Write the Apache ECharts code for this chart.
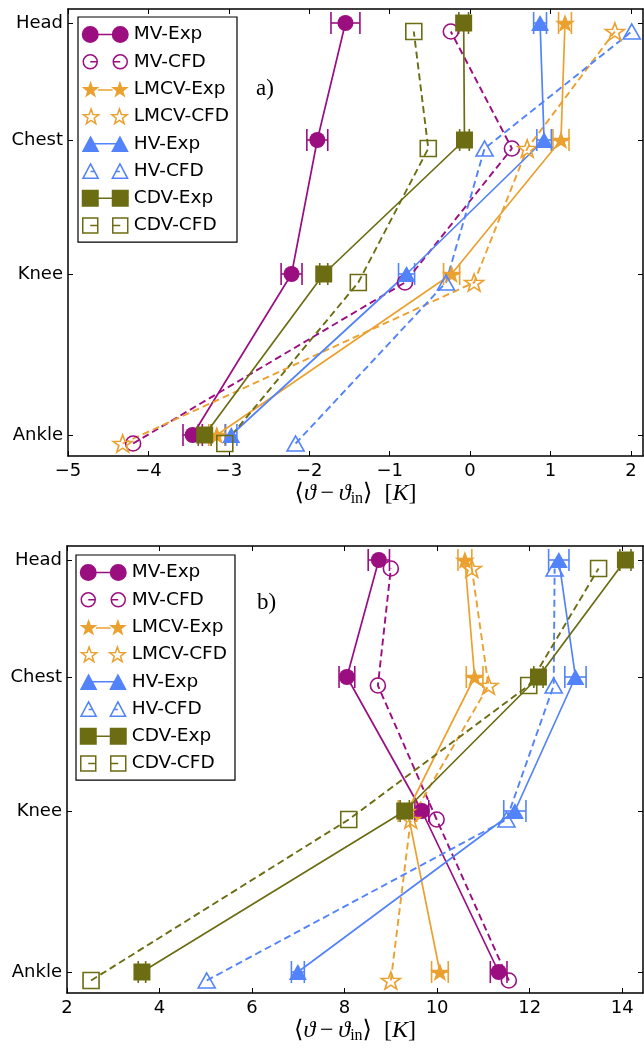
<!DOCTYPE html>
<html><head><meta charset="utf-8">
<script src="https://cdn.jsdelivr.net/npm/echarts@6/dist/echarts.min.js"></script>
<style>html,body{margin:0;padding:0;background:#fff}#c{width:644px;height:1049px}</style>
</head><body><div id="c"></div>
<script>
// ---------------- data ----------------
const levels = ['Ankle', 'Knee', 'Chest', 'Head'];
const expPos = [0, 1.61, 2.95, 4.12];          // measurement heights (plot units)
const cfdPos = [-0.085, 1.525, 2.865, 4.035];  // CFD probe heights (plot units)
const seriesNames = ['MV-Exp', 'MV-CFD', 'LMCV-Exp', 'LMCV-CFD', 'HV-Exp', 'HV-CFD', 'CDV-Exp', 'CDV-CFD'];
const xTicksA = [-5, -4, -3, -2, -1, 0, 1, 2];
const xTicksB = [2, 4, 6, 8, 10, 12, 14];

// panel a  (order: Ankle, Knee, Chest, Head)
const aMVExp = [-3.45, -2.22, -1.90, -1.55];
const aMVExpErr = [0.12, 0.13, 0.13, 0.18];
const aMVCFD = [-4.19, -0.81, 0.52, -0.24];
const aLMCVExp = [-3.15, -0.23, 1.13, 1.18];
const aLMCVExpErr = [0.10, 0.10, 0.10, 0.08];
const aLMCVCFD = [-4.32, 0.05, 0.71, 1.80];
const aHVExp = [-2.97, -0.79, 0.92, 0.87];
const aHVExpErr = [0.07, 0.10, 0.09, 0.08];
const aHVCFD = [-2.17, -0.30, 0.18, 2.01];
const aCDVExp = [-3.30, -1.82, -0.07, -0.08];
const aCDVExpErr = [0.08, 0.05, 0.06, 0.06];
const aCDVCFD = [-3.05, -1.39, -0.52, -0.70];

// panel b
const bMVExp = [11.33, 9.67, 8.05, 8.74];
const bMVExpErr = [0.18, 0.15, 0.17, 0.23];
const bMVCFD = [11.55, 9.99, 8.72, 9.00];
const bLMCVExp = [10.06, 9.36, 10.81, 10.60];
const bLMCVExpErr = [0.18, 0.20, 0.18, 0.15];
const bLMCVCFD = [9.00, 9.43, 11.11, 10.75];
const bHVExp = [6.99, 11.68, 12.99, 12.63];
const bHVExpErr = [0.14, 0.24, 0.23, 0.22];
const bHVCFD = [5.02, 11.50, 12.52, 12.54];
const bCDVExp = [3.62, 9.30, 12.19, 14.07];
const bCDVExpErr = [0.08, 0.10, 0.10, 0.12];
const bCDVCFD = [2.52, 8.09, 11.98, 13.49];

// ---------------- style ----------------
const colors = ['#9b0e80', '#eba130', '#5283fb', '#6c6c12'];
function starPts(cx, cy, R, r) {
  let s = '';
  for (let k = 0; k < 10; k++) {
    const ang = -Math.PI / 2 + k * Math.PI / 5;
    const rad = k % 2 ? r : R;
    s += (k ? 'L' : 'M') + (cx + rad * Math.cos(ang)).toFixed(2) + ',' + (cy + rad * Math.sin(ang)).toFixed(2) + ' ';
  }
  return s + 'Z ';
}
const starSym = 'path://' + starPts(10, 10, 10, 4);
const symbols = ['circle', starSym, 'triangle', 'rect'];
const symSizes = [16, [20, 19], [18, 16], 17];
const hollowSizes = [15, [19, 18], [17, 15], 16];

const legendIcons = [
  'path://M0,8.5 A8.5,8.5 0 1,1 17,8.5 A8.5,8.5 0 1,1 0,8.5 Z M30,8.5 A8.5,8.5 0 1,1 47,8.5 A8.5,8.5 0 1,1 30,8.5 Z M16,7.7 L31,7.7 L31,9.3 L16,9.3 Z',
  'path://M0,0 M47,17 M1.5,8.5 A7,7 0 1,1 15.5,8.5 A7,7 0 1,1 1.5,8.5 Z M31.5,8.5 A7,7 0 1,1 45.5,8.5 A7,7 0 1,1 31.5,8.5 Z M8.5,8.5 L15.5,8.5 M31.5,8.5 L38.5,8.5',
  'path://' + starPts(9.5, 9.5, 9.5, 3.8) + starPts(39.5, 9.5, 9.5, 3.8) + 'M17,8.7 L32,8.7 L32,10.3 L17,10.3 Z',
  'path://M0,0 M49,18 ' + starPts(9.5, 9.8, 8.6, 3.5) + starPts(39.5, 9.8, 8.6, 3.5),
  'path://M0,17 L9,0 L18,17 Z M30,17 L39,0 L48,17 Z M12,7.7 L36,7.7 L36,9.3 L12,9.3 Z',
  'path://M0,0 M48,17 M1.2,16 L9,1.2 L16.8,16 Z M31.2,16 L39,1.2 L46.8,16 Z M9,9 L13,9 M35,9 L39,9',
  'path://M0,0 L17,0 L17,17 L0,17 Z M30,0 L47,0 L47,17 L30,17 Z M16,7.7 L31,7.7 L31,9.3 L16,9.3 Z',
  'path://M0,0 M47,17 M1,1 L16,1 L16,16 L1,16 Z M31,1 L46,1 L46,16 L31,16 Z M8.5,8.5 L16,8.5 M31,8.5 L38.5,8.5'
];

const tickFont = { color: '#000', fontSize: 18, fontFamily: 'DejaVu Sans' };
const minus = v => String(v).replace('-', '\u2212');
function levelLabel(v) {
  let best = 0;
  for (let i = 0; i < expPos.length; i++) if (Math.abs(expPos[i] - v) < Math.abs(expPos[best] - v)) best = i;
  return levels[best];
}
const serif = "'Liberation Serif','DejaVu Serif',serif";
const axisName = '{u|\u27E8}{i|\u03D1}{u|\u2009\u2212\u2009}{i|\u03D1}{s|in}{u|\u27E9\u2002[}{i|K}{u|]}';
const axisNameStyle = {
  rich: {
    u: { fontFamily: serif, fontSize: 24, color: '#000', lineHeight: 26 },
    i: { fontFamily: serif, fontSize: 24, fontStyle: 'italic', color: '#000', lineHeight: 26 },
    s: { fontFamily: serif, fontSize: 16, color: '#000', verticalAlign: 'bottom', lineHeight: 16 }
  }
};

const grids = [
  { left: 68, top: 9, width: 575, height: 447 },
  { left: 67, top: 546, width: 576, height: 447 }
];
const xRanges = [[-5, 2.15, 1, xTicksA], [2, 14.45, 2, xTicksB]];

const xAxes = [], yAxes = [];
grids.forEach((g, gi) => {
  const [mn, mx, iv, tv] = xRanges[gi];
  const lineSt = { show: true, onZero: false, lineStyle: { color: '#000', width: 1.5 } };
  xAxes.push({
    type: 'value', gridIndex: gi, min: mn, max: mx, interval: iv, position: 'bottom',
    axisLine: lineSt,
    axisTick: { show: true, inside: true, length: 5, customValues: tv, lineStyle: { color: '#000', width: 1 } },
    axisLabel: Object.assign({ customValues: tv, formatter: minus, margin: 6 }, tickFont),
    splitLine: { show: false },
    name: axisName, nameLocation: 'middle', nameGap: 25, nameTextStyle: axisNameStyle
  });
  xAxes.push({
    type: 'value', gridIndex: gi, min: mn, max: mx, interval: iv, position: 'top',
    axisLine: lineSt,
    axisTick: { show: true, inside: true, length: 5, customValues: tv, lineStyle: { color: '#000', width: 1 } },
    axisLabel: { show: false }, splitLine: { show: false }
  });
  yAxes.push({
    type: 'value', gridIndex: gi, min: -0.21, max: 4.26, position: 'left',
    axisLine: lineSt,
    axisTick: { show: true, inside: true, length: 5, customValues: expPos, lineStyle: { color: '#000', width: 1 } },
    axisLabel: Object.assign({ customValues: expPos, formatter: levelLabel, margin: 5 }, tickFont),
    splitLine: { show: false }
  });
  yAxes.push({
    type: 'value', gridIndex: gi, min: -0.21, max: 4.26, position: 'right',
    axisLine: lineSt,
    axisTick: { show: true, inside: true, length: 5, customValues: expPos, lineStyle: { color: '#000', width: 1 } },
    axisLabel: { show: false }, splitLine: { show: false }
  });
});

const panels = [
  [[aMVExp, aMVExpErr, aMVCFD], [aLMCVExp, aLMCVExpErr, aLMCVCFD], [aHVExp, aHVExpErr, aHVCFD], [aCDVExp, aCDVExpErr, aCDVCFD]],
  [[bMVExp, bMVExpErr, bMVCFD], [bLMCVExp, bLMCVExpErr, bLMCVCFD], [bHVExp, bHVExpErr, bHVCFD], [bCDVExp, bCDVExpErr, bCDVCFD]]
];

const series = [];
panels.forEach((groups, gi) => {
  groups.forEach(([exp, err, cfd], k) => {
    const c = colors[k];
    series.push({
      type: 'custom', name: 'err' + gi + k, xAxisIndex: gi * 2, yAxisIndex: gi * 2, clip: true,
      data: exp.map((v, j) => [v - err[j], v + err[j], expPos[j]]),
      encode: { x: [0, 1], y: 2 },
      renderItem: (params, api) => {
        const y = api.value(2);
        const p0 = api.coord([api.value(0), y]);
        const p1 = api.coord([api.value(1), y]);
        const h = 11, st = { stroke: c, lineWidth: 1.6 };
        return {
          type: 'group', children: [
            { type: 'line', shape: { x1: p0[0], y1: p0[1], x2: p1[0], y2: p1[1] }, style: st },
            { type: 'line', shape: { x1: p0[0], y1: p0[1] - h, x2: p0[0], y2: p0[1] + h }, style: st },
            { type: 'line', shape: { x1: p1[0], y1: p1[1] - h, x2: p1[0], y2: p1[1] + h }, style: st }
          ]
        };
      }
    });
    series.push({
      type: 'line', name: seriesNames[k * 2], xAxisIndex: gi * 2, yAxisIndex: gi * 2,
      data: exp.map((v, j) => [v, expPos[j]]),
      symbol: symbols[k], symbolSize: symSizes[k], symbolKeepAspect: true,
      itemStyle: { color: c, borderWidth: 0 },
      lineStyle: { color: c, width: 1.7 }
    });
    series.push({
      type: 'line', name: seriesNames[k * 2 + 1], xAxisIndex: gi * 2, yAxisIndex: gi * 2,
      data: cfd.map((v, j) => [v, cfdPos[j]]),
      symbol: symbols[k], symbolSize: hollowSizes[k], symbolKeepAspect: true,
      itemStyle: { color: 'rgba(0,0,0,0)', borderColor: c, borderWidth: 1.6 },
      lineStyle: { color: c, width: 1.9, type: [7, 4] }
    });
  });
});

const legendData = seriesNames.map((n, i) => {
  const c = colors[Math.floor(i / 2)];
  return {
    name: n, icon: legendIcons[i],
    itemStyle: i % 2 ? { color: 'rgba(0,0,0,0)', borderColor: c, borderWidth: 1.5 } : { color: c, borderWidth: 0 }
  };
});
const legendBase = {
  orient: 'vertical', data: legendData, itemWidth: 47, itemHeight: 17, itemGap: 8.3, itemTextGap: 10,
  padding: [8, 8, 7, 3], borderColor: '#000', borderWidth: 1.2, backgroundColor: '#fff',
  textStyle: { color: '#000', fontSize: 18.5, fontFamily: 'DejaVu Sans', lineHeight: 17 },
  selectedMode: false
};

const chart = echarts.init(document.getElementById('c'), null, { renderer: 'canvas' });
chart.setOption({
  animation: false,
  backgroundColor: '#fff',
  grid: grids,
  xAxis: xAxes,
  yAxis: yAxes,
  legend: [
    Object.assign({ left: 78, top: 17 }, legendBase),
    Object.assign({ left: 76, top: 555 }, legendBase)
  ],
  graphic: [
    { type: 'text', left: 256, top: 77, style: { text: 'a)', font: "23px 'Liberation Serif', serif", fill: '#000' } },
    { type: 'text', left: 257, top: 591, style: { text: 'b)', font: "23px 'Liberation Serif', serif", fill: '#000' } }
  ],
  series: series
});
</script>
</body></html>
